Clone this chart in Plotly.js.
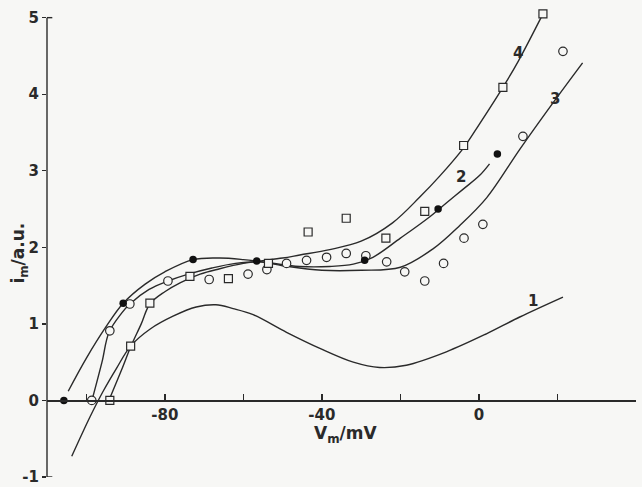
<!DOCTYPE html>
<html>
<head>
<meta charset="utf-8">
<script src="https://cdn.plot.ly/plotly-3.0.1.min.js"></script>
<style>html,body{margin:0;padding:0;background:#f7f7f5;}</style>
</head>
<body>
<div id="chart" style="width:642px;height:487px;"></div>
<script>
// Curve 1
const curve1V = [-103.7, -99, -95.7, -92.3, -88.7, -83.8, -77.9, -72, -67, -62.6, -57.5, -49, -40.5, -32, -25.3, -18.5, -8.3, 1.9, 10.4, 21.4];
const curve1I = [-0.73, -0.21, 0.12, 0.42, 0.71, 0.93, 1.10, 1.22, 1.25, 1.20, 1.12, 0.89, 0.68, 0.50, 0.43, 0.46, 0.635, 0.87, 1.09, 1.35];
// Curve 2 (filled circles)
const curve2V = [-104.6, -100, -95, -90.6, -85, -80, -72.8, -66, -60, -55, -45.6, -38, -32, -27, -20, -12.5, -8.3, -4, 0.2, 2.7];
const curve2I = [0.12, 0.55, 0.96, 1.27, 1.52, 1.68, 1.84, 1.86, 1.84, 1.81, 1.75, 1.75, 1.78, 1.87, 2.12, 2.40, 2.58, 2.76, 2.94, 3.09];
// Curve 3 (open circles)
const curve3V = [-98.4, -96, -94.2, -91, -88.9, -84, -79.2, -74, -68, -62, -56, -50, -40, -30, -20, -11.7, -5, 2, 10.4, 18.9, 26.4];
const curve3I = [0.03, 0.50, 0.89, 1.14, 1.26, 1.45, 1.56, 1.65, 1.73, 1.79, 1.81, 1.76, 1.70, 1.70, 1.74, 1.98, 2.28, 2.65, 3.28, 3.89, 4.41];
// Curve 4 (squares)
const curve4V = [-94, -91, -88.6, -86, -83.8, -80, -76, -71, -66, -60, -56, -50, -45.6, -38, -30, -22, -15, -10, -3.9, 0, 6.1, 10, 16.3];
const curve4I = [0.03, 0.40, 0.71, 1.00, 1.26, 1.42, 1.54, 1.65, 1.72, 1.79, 1.82, 1.86, 1.90, 1.97, 2.08, 2.32, 2.66, 2.93, 3.30, 3.60, 4.09, 4.43, 5.05];

// Measured points
const filledV = [-105.7, -90.6, -72.8, -56.6, -29.1, -10.4, 4.7];
const filledI = [0, 1.27, 1.84, 1.82, 1.83, 2.50, 3.22];
const openV = [-98.6, -94, -88.9, -79.2, -68.7, -58.8, -54, -49, -43.9, -38.8, -33.8, -28.8, -23.5, -18.9, -13.8, -9, -3.8, 1, 11.2, 21.4];
const openI = [0, 0.91, 1.26, 1.56, 1.58, 1.65, 1.71, 1.79, 1.83, 1.87, 1.92, 1.89, 1.81, 1.68, 1.56, 1.79, 2.12, 2.30, 3.45, 4.56];
const squareV = [-94, -88.7, -83.8, -73.6, -63.8, -53.6, -43.5, -33.8, -23.7, -13.8, -3.9, 6.1, 16.3];
const squareI = [0, 0.71, 1.27, 1.62, 1.59, 1.79, 2.20, 2.38, 2.12, 2.47, 3.33, 4.09, 5.05];

// Axes ticks
const xTickVals = [-100, -80, -60, -40, -20, 0, 20, 40];
const xTickText = ['', '-80', '', '-40', '', '0', '', '40'];
const yTickVals = [-1, 0, 1, 2, 3, 4, 5];
const yTickText = ['-1', '0', '1', '2', '3', '4', '5'];
const xRange = [-110, 40];
const yMin = -1, yMax = 5, yTop = 5.1;

// Curve labels
const labelText = ['1', '2', '3', '4'];
const labelV = [13.7, -4.5, 19.4, 9.9];
const labelI = [1.30, 2.92, 3.94, 4.54];

const ink = '#2a2a2a';
const bg = '#f7f7f5';
const fam = 'DejaVu Sans';

function lineTrace(x, y) {
  return {x: x, y: y, mode: 'lines', type: 'scatter', line: {color: ink, width: 1.4, shape: 'spline', smoothing: 1.0}, hoverinfo: 'skip', cliponaxis: false};
}

const traces = [
  lineTrace(curve1V, curve1I),
  lineTrace(curve2V, curve2I),
  lineTrace(curve3V, curve3I),
  lineTrace(curve4V, curve4I),
  {x: openV, y: openI, mode: 'markers', type: 'scatter', cliponaxis: false,
   marker: {symbol: 'circle', size: 8.5, color: bg, line: {color: ink, width: 1.2}}},
  {x: squareV, y: squareI, mode: 'markers', type: 'scatter', cliponaxis: false,
   marker: {symbol: 'square', size: 8, color: bg, line: {color: ink, width: 1.2}}},
  {x: filledV, y: filledI, mode: 'markers', type: 'scatter', cliponaxis: false,
   marker: {symbol: 'circle', size: 7.5, color: '#111', line: {color: '#111', width: 0}}}
];

const annotations = labelText.map((t, k) => ({
  x: labelV[k], y: labelI[k], xref: 'x', yref: 'y', text: t, showarrow: false,
  font: {family: fam, size: 15, color: ink, weight: 'bold'}
}));
annotations.push({
  x: -0.046, y: 1.93, xref: 'paper', yref: 'y', xanchor: 'center', yanchor: 'middle',
  text: 'i<sub>m</sub>/a.u.', showarrow: false,
  textangle: -90, font: {family: fam, size: 17, color: ink, weight: 'bold'}
});
annotations.push({
  x: -33.9, y: -0.45, xref: 'x', yref: 'y', xanchor: 'center', yanchor: 'middle',
  text: 'V<sub>m</sub>/mV', showarrow: false,
  font: {family: fam, size: 17, color: ink, weight: 'bold'}
});

const shapes = [
  // y axis line from -1 to 5 with small end caps
  {type: 'line', xref: 'paper', yref: 'y', x0: 0, x1: 0, y0: yMin, y1: yMax, line: {color: ink, width: 1.4}},
  {type: 'line', xref: 'paper', yref: 'y', x0: 0, x1: 0.009, y0: yMax, y1: yMax, line: {color: ink, width: 1.4}},
  {type: 'line', xref: 'paper', yref: 'y', x0: 0, x1: 0.009, y0: yMin, y1: yMin, line: {color: ink, width: 1.4}}
];

const layout = {
  width: 642, height: 487,
  margin: {l: 47, r: 6, t: 10, b: 10},
  paper_bgcolor: bg, plot_bgcolor: bg,
  showlegend: false,
  xaxis: {
    range: xRange, anchor: 'free', position: (0 - yMin) / (yTop - yMin),
    showline: true, linecolor: ink, linewidth: 1.4,
    ticks: 'inside', ticklen: 6, tickwidth: 1.4, tickcolor: ink,
    tickvals: xTickVals, ticktext: xTickText,
    showgrid: false, zeroline: false,
    tickfont: {family: fam, size: 15, color: ink, weight: 'bold'}
  },
  yaxis: {
    range: [yMin, yTop],
    showline: false,
    ticks: 'outside', ticklen: 4, tickwidth: 1.4, tickcolor: ink,
    tickvals: yTickVals, ticktext: yTickText,
    ticklabeloverflow: 'allow',
    showgrid: false, zeroline: false,
    tickfont: {family: fam, size: 15, color: ink, weight: 'bold'}
  },
  shapes: shapes,
  annotations: annotations
};

Plotly.newPlot('chart', traces, layout, {displayModeBar: false, staticPlot: true});
</script>
</body>
</html>
